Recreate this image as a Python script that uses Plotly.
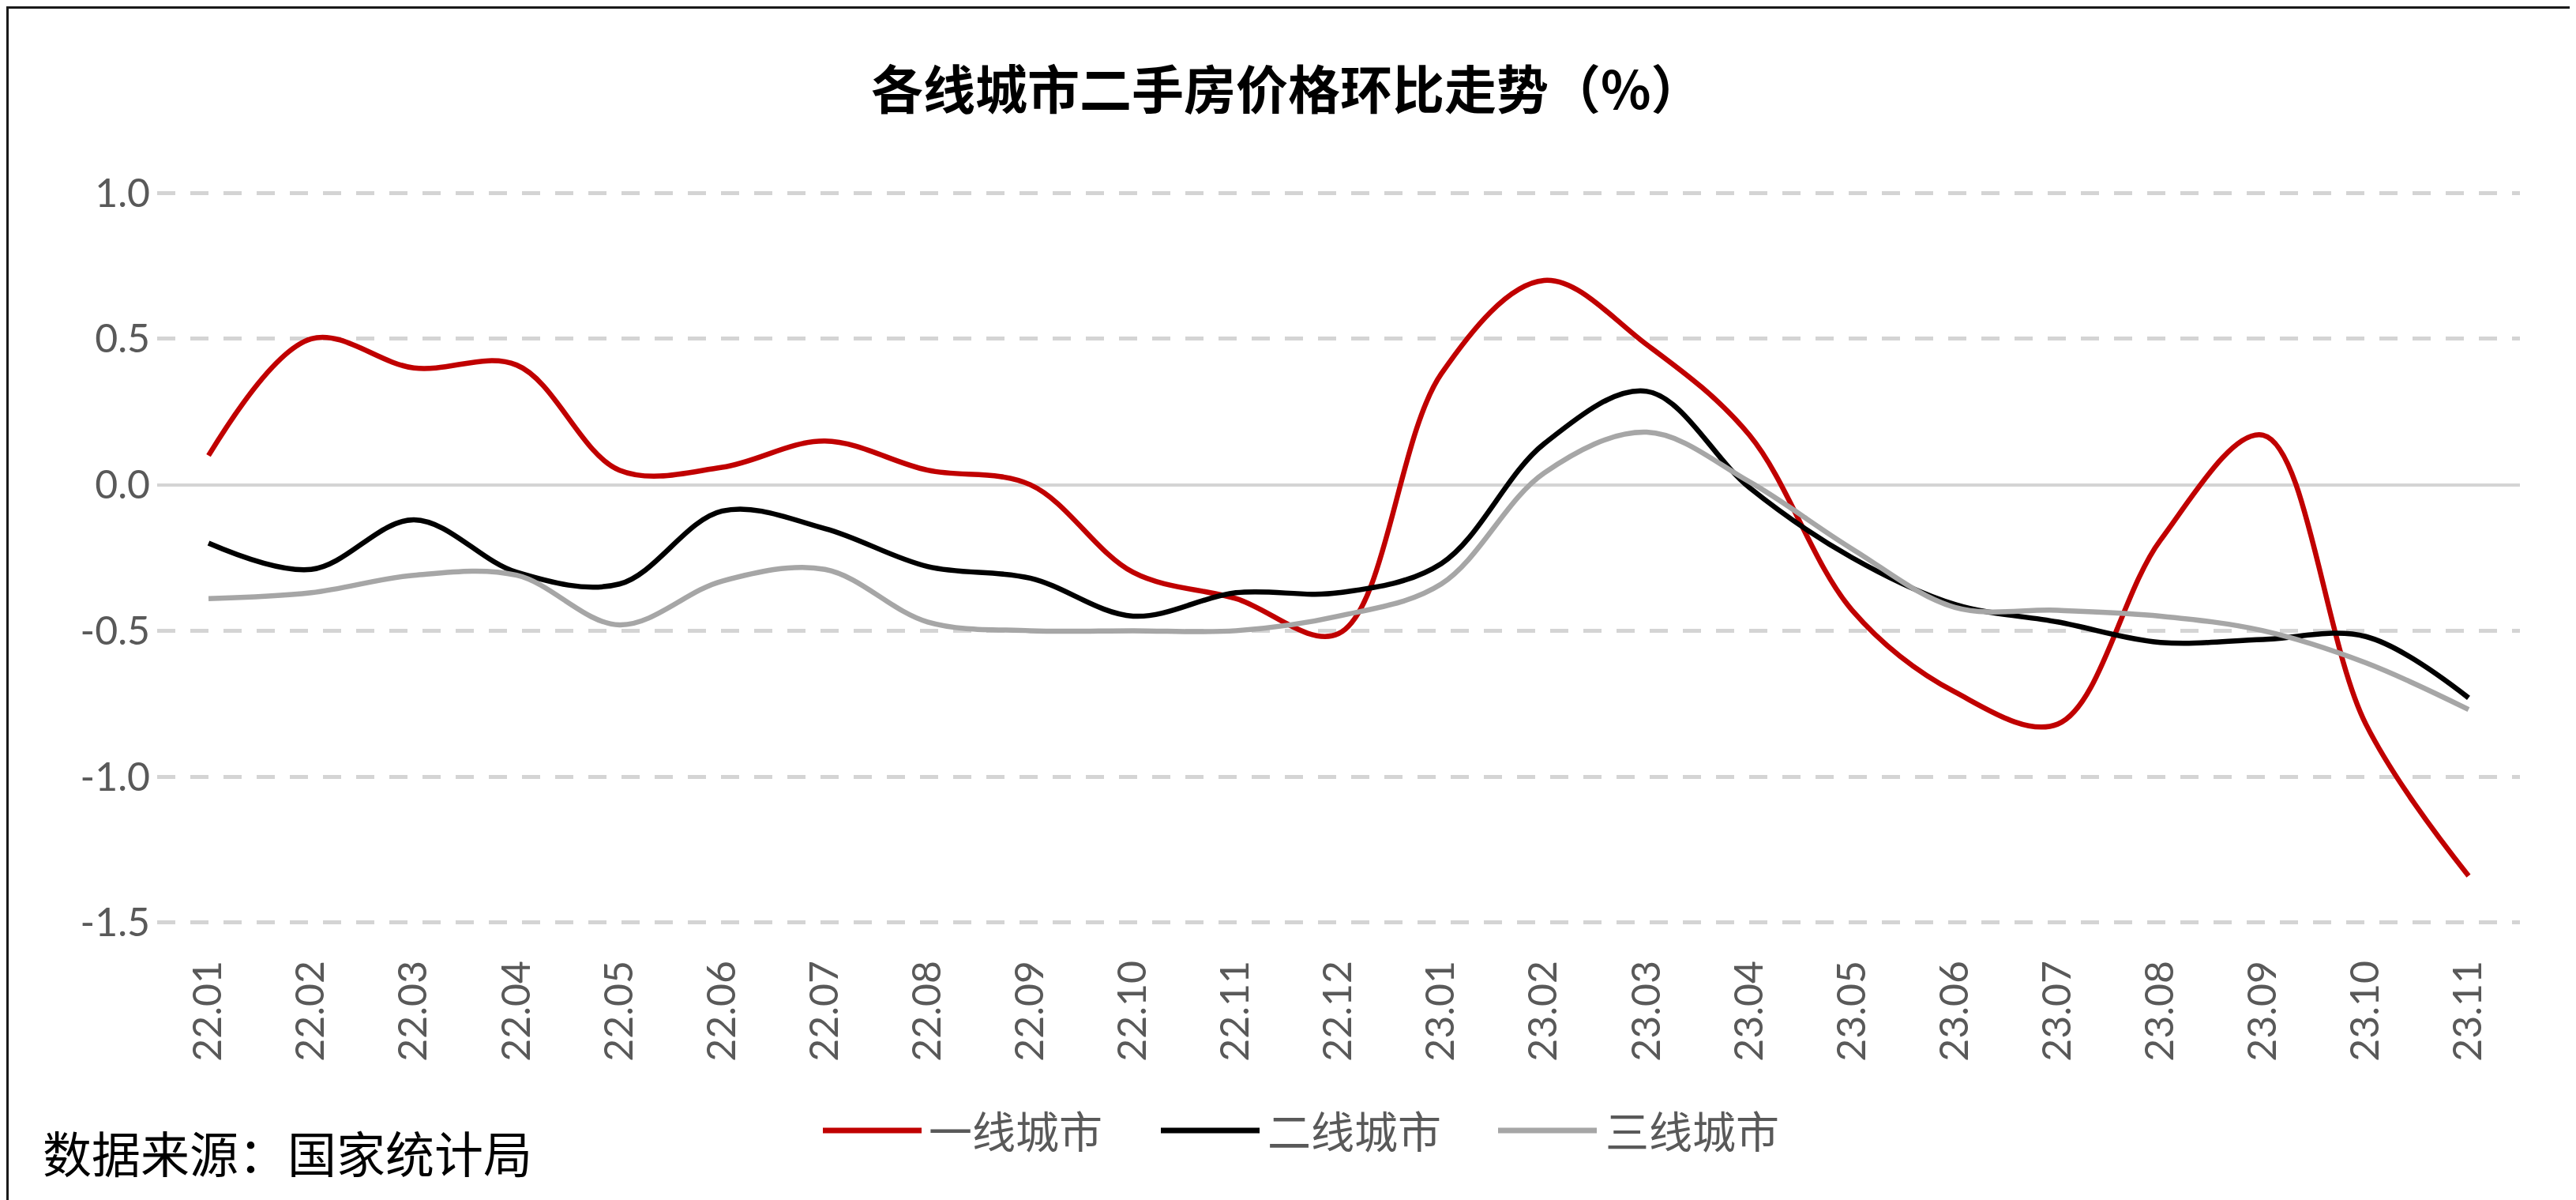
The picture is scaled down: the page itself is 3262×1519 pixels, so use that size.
import plotly.graph_objects as go

# ---------------- data ----------------
categories = ["22.01", "22.02", "22.03", "22.04", "22.05", "22.06", "22.07", "22.08",
              "22.09", "22.10", "22.11", "22.12", "23.01", "23.02", "23.03", "23.04",
              "23.05", "23.06", "23.07", "23.08", "23.09", "23.10", "23.11"]

tier1 = [0.10, 0.50, 0.40, 0.41, 0.05, 0.06, 0.15, 0.05, 0.00, -0.30, -0.39, -0.51,
         0.38, 0.70, 0.48, 0.17, -0.43, -0.71, -0.82, -0.19, 0.17, -0.82, -1.34]
tier2 = [-0.20, -0.29, -0.12, -0.30, -0.34, -0.09, -0.15, -0.28, -0.32, -0.45, -0.37, -0.37,
         -0.27, 0.14, 0.32, -0.01, -0.25, -0.41, -0.47, -0.54, -0.53, -0.52, -0.73]
tier3 = [-0.39, -0.37, -0.31, -0.31, -0.48, -0.33, -0.29, -0.47, -0.50, -0.50, -0.50, -0.45,
         -0.34, 0.04, 0.18, 0.01, -0.22, -0.42, -0.43, -0.45, -0.50, -0.61, -0.77]

series_names = ["一线城市", "二线城市", "三线城市"]
series_colors = ["#C00000", "#000000", "#A6A6A6"]

y_tickvals = [1.0, 0.5, 0.0, -0.5, -1.0, -1.5]
y_ticktext = ["1.0", "0.5", "0.0", "-0.5", "-1.0", "-1.5"]

title_text = "各线城市二手房价格环比走势（%）"
source_text = "数据来源：国家统计局"

# ---------------- layout geometry (pixels) ----------------
W, H = 3262, 1519
L, R, T, B = 191, 3183, 235, 1161  # plot area
PW, PH = R - L, B - T


def px_x(px):
    return (px - L) / PW


def px_y(py):
    return (B - py) / PH


fig = go.Figure()
for name, vals, col in zip(series_names, [tier1, tier2, tier3], series_colors):
    fig.add_trace(go.Scatter(
        x=categories, y=vals, name=name, mode="lines",
        line=dict(color=col, width=6.5, shape="spline", smoothing=1.0),
        showlegend=False,
    ))

tick_font = dict(family="Lato, 'Liberation Sans', sans-serif", size=50, color="#595959")

fig.update_layout(
    width=W, height=H,
    margin=dict(l=L, r=W - R, t=T, b=H - B, autoexpand=False),
    paper_bgcolor="white", plot_bgcolor="white",
    xaxis=dict(
        type="category", range=[-0.5, len(categories) - 0.5],
        showgrid=False, showline=False, zeroline=False,
        tickangle=-90, tickfont=tick_font, ticks="",
        ticklabelstandoff=36, automargin=False,
    ),
    yaxis=dict(
        range=[-1.503, 1.003], tickvals=y_tickvals, ticktext=y_ticktext,
        showgrid=True, gridcolor="#D4D4D4", gridwidth=4.5, griddash="23px,19px",
        zeroline=True, zerolinecolor="#D4D4D4", zerolinewidth=3.5,
        showline=False, ticks="", tickfont=tick_font,
        ticklabelstandoff=8, automargin=False,
    ),
)

annotations = [
    dict(text="<b>" + title_text + "</b>", xref="paper", yref="paper",
         x=px_x(1622), y=px_y(101), xanchor="center", yanchor="middle", showarrow=False,
         font=dict(family="Noto Sans CJK SC", size=66, color="#000000")),
    dict(text=source_text, xref="paper", yref="paper",
         x=px_x(44), y=px_y(1450), xanchor="left", yanchor="middle", showarrow=False,
         font=dict(family="Noto Sans CJK SC", size=62, color="#000000")),
]

shapes = []
legend_line_x = [(1034, 1159), (1462, 1587), (1889, 2014)]
legend_text_x = [1166, 1595, 2023]
legend_y = 1423
for (x0, x1), tx, name, col in zip(legend_line_x, legend_text_x, series_names, series_colors):
    shapes.append(dict(type="line", xref="paper", yref="paper",
                       x0=px_x(x0), x1=px_x(x1), y0=px_y(legend_y), y1=px_y(legend_y),
                       line=dict(color=col, width=7)))
    annotations.append(dict(text=name, xref="paper", yref="paper",
                            x=px_x(tx), y=px_y(legend_y - 2), xanchor="left", yanchor="middle",
                            showarrow=False,
                            font=dict(family="Noto Sans CJK SC", size=55, color="#595959")))

# outer border
shapes.append(dict(type="rect", xref="paper", yref="paper",
                   x0=px_x(1.5), x1=px_x(W - 2.5), y0=px_y(H - 2.5), y1=px_y(1.5),
                   line=dict(color="#1A1A1A", width=3), fillcolor="rgba(0,0,0,0)"))

fig.update_layout(annotations=annotations, shapes=shapes)
fig.write_html("out.html")
